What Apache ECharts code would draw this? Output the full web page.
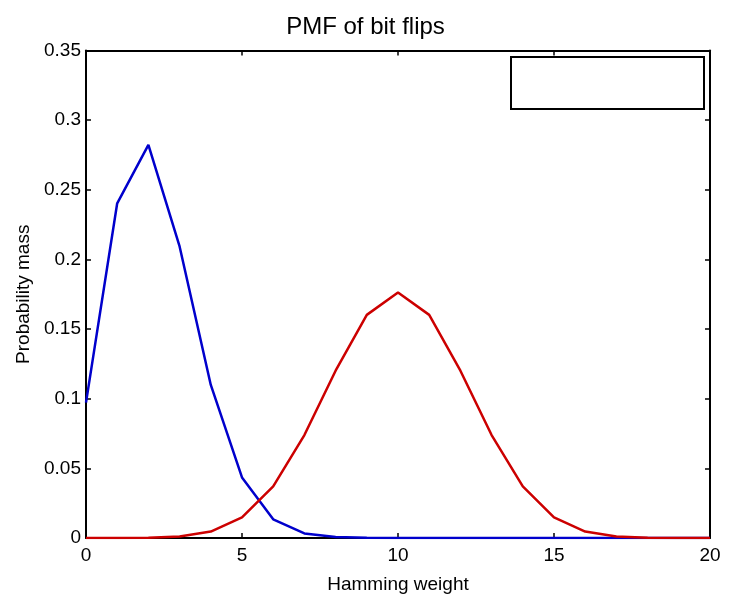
<!DOCTYPE html>
<html>
<head>
<meta charset="utf-8">
<script src="https://cdn.jsdelivr.net/npm/echarts@6/dist/echarts.min.js"></script>
<style>html,body{margin:0;padding:0;background:#fff}#c{width:731px;height:599px}</style>
</head>
<body>
<div id="c"></div>
<script>
const hammingWeights = [0,1,2,3,4,5,6,7,8,9,10,11,12,13,14,15,16,17,18,19,20];
const blueValues = [0.0972,0.2403,0.2822,0.2093,0.1099,0.0435,0.0134,0.0033,0.0007,0.0001,0.00002,0,0,0,0,0,0,0,0,0,0];
const redValues = [0.000001,0.000019,0.00018,0.0011,0.0046,0.0148,0.0370,0.0739,0.1201,0.1602,0.1762,0.1602,0.1201,0.0739,0.0370,0.0148,0.0046,0.0011,0.00018,0.000019,0.000001];
const titleText = 'PMF of bit flips';
const xName = 'Hamming weight';
const yName = 'Probability mass';

const font = 'Liberation Sans, Arial, Helvetica, sans-serif';
const chart = echarts.init(document.getElementById('c'));
const frameLine = {show:true, onZero:false, lineStyle:{color:'#000', width:2}};
const tickIn = {show:true, inside:true, length:5, lineStyle:{color:'#000', width:1.5}};
chart.setOption({
  animation:false,
  backgroundColor:'#fff',
  title:{text:titleText, left:'center', top:10, textStyle:{fontFamily:font, fontSize:24, fontWeight:'normal', color:'#000'}},
  grid:{left:86, right:21, top:50.5, bottom:56, containLabel:false},
  xAxis:[
    {type:'value', min:0, max:20, interval:5, name:xName, nameLocation:'middle', nameGap:37,
     nameTextStyle:{fontFamily:font, fontSize:19, color:'#000'},
     axisLine:frameLine, axisTick:tickIn, splitLine:{show:false},
     axisLabel:{fontFamily:font, fontSize:19, color:'#000', margin:8}},
    {type:'value', min:0, max:20, interval:5, position:'top',
     axisLine:frameLine, axisTick:tickIn, axisLabel:{show:false}, splitLine:{show:false}}
  ],
  yAxis:[
    {type:'value', min:0, max:0.35, interval:0.05, name:yName, nameLocation:'middle', nameGap:51,
     nameTextStyle:{fontFamily:font, fontSize:19, color:'#000'},
     axisLine:frameLine, axisTick:tickIn, splitLine:{show:false},
     axisLabel:{fontFamily:font, fontSize:19, color:'#000', margin:5}},
    {type:'value', min:0, max:0.35, interval:0.05, position:'right',
     axisLine:frameLine, axisTick:tickIn, axisLabel:{show:false}, splitLine:{show:false}}
  ],
  series:[
    {type:'line', data:hammingWeights.map((x,i)=>[x, blueValues[i]]), showSymbol:false,
     lineStyle:{color:'#0000cc', width:2.5}, z:3},
    {type:'line', data:hammingWeights.map((x,i)=>[x, redValues[i]]), showSymbol:false,
     lineStyle:{color:'#cc0000', width:2.5}, z:4}
  ],
  graphic:[
    {type:'rect', shape:{x:511, y:57, width:193, height:52}, style:{fill:'#fff', stroke:'#000', lineWidth:2}, z:10}
  ]
});
</script>
</body>
</html>
